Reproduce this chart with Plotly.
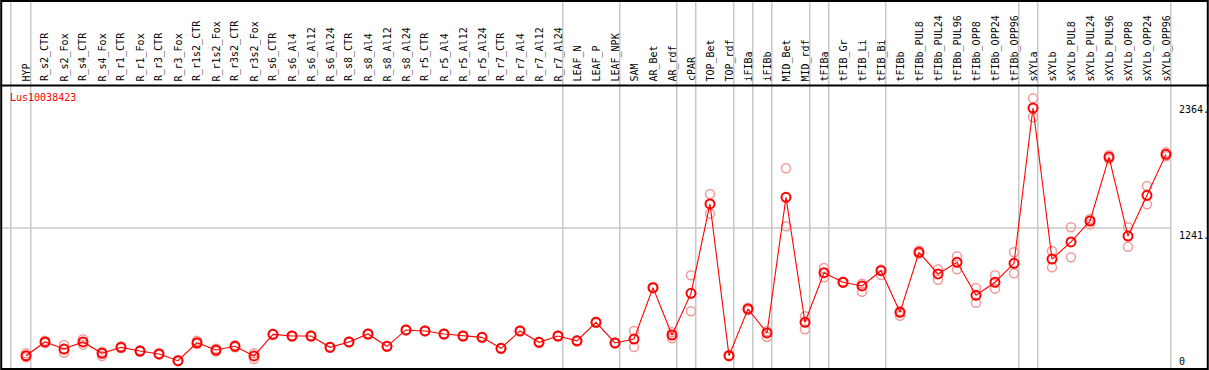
import plotly.graph_objects as go

categories = ["HYP", "R_s2_CTR", "R_s2_Fox", "R_s4_CTR", "R_s4_Fox", "R_r1_CTR", "R_r1_Fox",
              "R_r3_CTR", "R_r3_Fox", "R_r1s2_CTR", "R_r1s2_Fox", "R_r3s2_CTR", "R_r3s2_Fox",
              "R_s6_CTR", "R_s6_Al4", "R_s6_Al12", "R_s6_Al24", "R_s8_CTR", "R_s8_Al4", "R_s8_Al12",
              "R_s8_Al24", "R_r5_CTR", "R_r5_Al4", "R_r5_Al12", "R_r5_Al24", "R_r7_CTR", "R_r7_Al4",
              "R_r7_Al12", "R_r7_Al24", "LEAF_N", "LEAF_P", "LEAF_NPK", "SAM", "AR_Bet", "AR_rdf",
              "cPAR", "TOP_Bet", "TOP_rdf", "iFIBa", "iFIBb", "MID_Bet", "MID_rdf", "tFIBa",
              "tFIB_Gr", "tFIB_Li", "tFIB_Bi", "tFIBb", "tFIBb_PUL8", "tFIBb_PUL24", "tFIBb_PUL96",
              "tFIBb_OPP8", "tFIBb_OPP24", "tFIBb_OPP96", "sXYLa", "sXYLb", "sXYLb_PUL8",
              "sXYLb_PUL24", "sXYLb_PUL96", "sXYLb_OPP8", "sXYLb_OPP24", "sXYLb_OPP96"]

mean_values = [102, 225, 162, 225, 124, 177, 144, 118, 58, 218, 153, 186, 100,
               293, 278, 278, 177, 225, 296, 186, 332, 323, 296, 278, 266, 168, 323, 222, 278,
               235, 400, 216, 251, 709, 287, 658, 1455, 103, 519, 305, 1514, 400,
               842, 757, 724, 860, 489, 1024, 831, 935, 641, 757, 926,
               2310, 964, 1116, 1303, 1873, 1169, 1532, 1897]

rep1_values = [124, 235, 198, 249, 138, 185, 150, 124, 62, 236, 165, 195, 124,
               297, 282, 282, 181, 229, 300, 190, 336, 327, 300, 282, 270, 172, 327, 226, 282,
               240, 405, 221, 323, 715, 311, 819, 1544, 108, 530, 320, 1773, 454,
               884, 762, 744, 870, 500, 1040, 872, 988, 706, 819, 1024,
               2396, 1036, 1247, 1320, 1890, 1247, 1615, 1915]

rep2_values = [88, 215, 129, 201, 100, 170, 138, 112, 54, 207, 140, 178, 73,
               289, 274, 274, 173, 221, 292, 182, 328, 319, 292, 274, 262, 164, 319, 218, 274,
               230, 395, 211, 180, 703, 258, 498, 1368, 98, 508, 269, 1256, 338,
               801, 752, 673, 822, 459, 1010, 780, 872, 575, 700, 837,
               2227, 890, 979, 1273, 1855, 1074, 1452, 1880]

group_edges = [-0.8, 0.25, 28.25, 31.25, 34.25, 35.25, 37.25, 38.25, 39.25, 41.25,
               42.25, 45.25, 52.25, 53.25, 60.25]
y_tick_values = [2364, 1241, 0]
y_tick_labels = ["2364.", "1241.", "0"]
gene_name = "Lus10038423"

W, H = 1209, 370
px_per_cat = 19.0
x0_px = 26.0
xmin = -x0_px / px_per_cat
xmax = xmin + W / px_per_cat
k = 0.1122
zero_py = 367.2
ytop = zero_py / k
ybot = (zero_py - H) / k

idx = list(range(len(categories)))
mono = "DejaVu Sans Mono"

fig = go.Figure()
fig.add_trace(go.Scatter(
    x=idx + idx, y=rep1_values + rep2_values, mode="markers",
    marker=dict(symbol="circle-open", size=9, color="#f29a9a", line=dict(width=1.5)),
    hoverinfo="skip", showlegend=False))
fig.add_trace(go.Scatter(
    x=idx, y=mean_values, mode="lines+markers",
    line=dict(color="#ff0000", width=1.1),
    marker=dict(symbol="circle-open", size=9, color="#ff0000", line=dict(width=2)),
    showlegend=False))

shapes = []
for e in group_edges:
    shapes.append(dict(type="line", xref="x", yref="paper", x0=e, x1=e, y0=0, y1=1,
                       line=dict(color="#c8c8c8", width=1.5), layer="below"))
shapes.append(dict(type="line", xref="x", yref="y", x0=xmin, x1=60.25, y0=1241, y1=1241,
                   line=dict(color="#c8c8c8", width=1.5), layer="below"))
shapes.append(dict(type="line", xref="paper", yref="paper", x0=0, x1=1,
                   y0=1 - 85.5 / H, y1=1 - 85.5 / H, line=dict(color="black", width=2)))
shapes.append(dict(type="rect", xref="paper", yref="paper", x0=0.001, x1=0.999,
                   y0=0.003, y1=0.997, line=dict(color="black", width=2)))

annotations = []
for i, c in enumerate(categories):
    annotations.append(dict(x=i, y=1 - 83.5 / H, xref="x", yref="paper", text=c,
                            textangle=-90, showarrow=False, xanchor="center", yanchor="bottom",
                            font=dict(family=mono, size=10, color="black")))
annotations.append(dict(x=8 / W, y=1 - 97 / H, xref="paper", yref="paper", text=gene_name,
                        showarrow=False, xanchor="left", yanchor="middle",
                        font=dict(family=mono, size=10, color="#ff0000")))
for v, t in zip(y_tick_values, y_tick_labels):
    if v == 0:
        annotations.append(dict(x=1177 / W, y=1 - 369 / H, xref="paper", yref="paper", text=t,
                                showarrow=False, xanchor="left", yanchor="bottom",
                                font=dict(family=mono, size=10, color="black")))
    else:
        annotations.append(dict(x=1177 / W, y=v, xref="paper", yref="y", text=t, showarrow=False,
                                xanchor="left", yanchor="top",
                                font=dict(family=mono, size=10, color="black")))

fig.update_layout(
    width=W, height=H, autosize=False,
    margin=dict(l=0, r=0, t=0, b=0, pad=0),
    paper_bgcolor="white", plot_bgcolor="white",
    xaxis=dict(range=[xmin, xmax], visible=False, showgrid=False, zeroline=False),
    yaxis=dict(range=[ybot, ytop], visible=False, showgrid=False, zeroline=False),
    shapes=shapes, annotations=annotations, showlegend=False,
)

fig.write_html("out.html", config={"displayModeBar": False},
               post_script="document.body.style.margin='0px';document.body.style.padding='0px';document.body.style.overflow='hidden';")
